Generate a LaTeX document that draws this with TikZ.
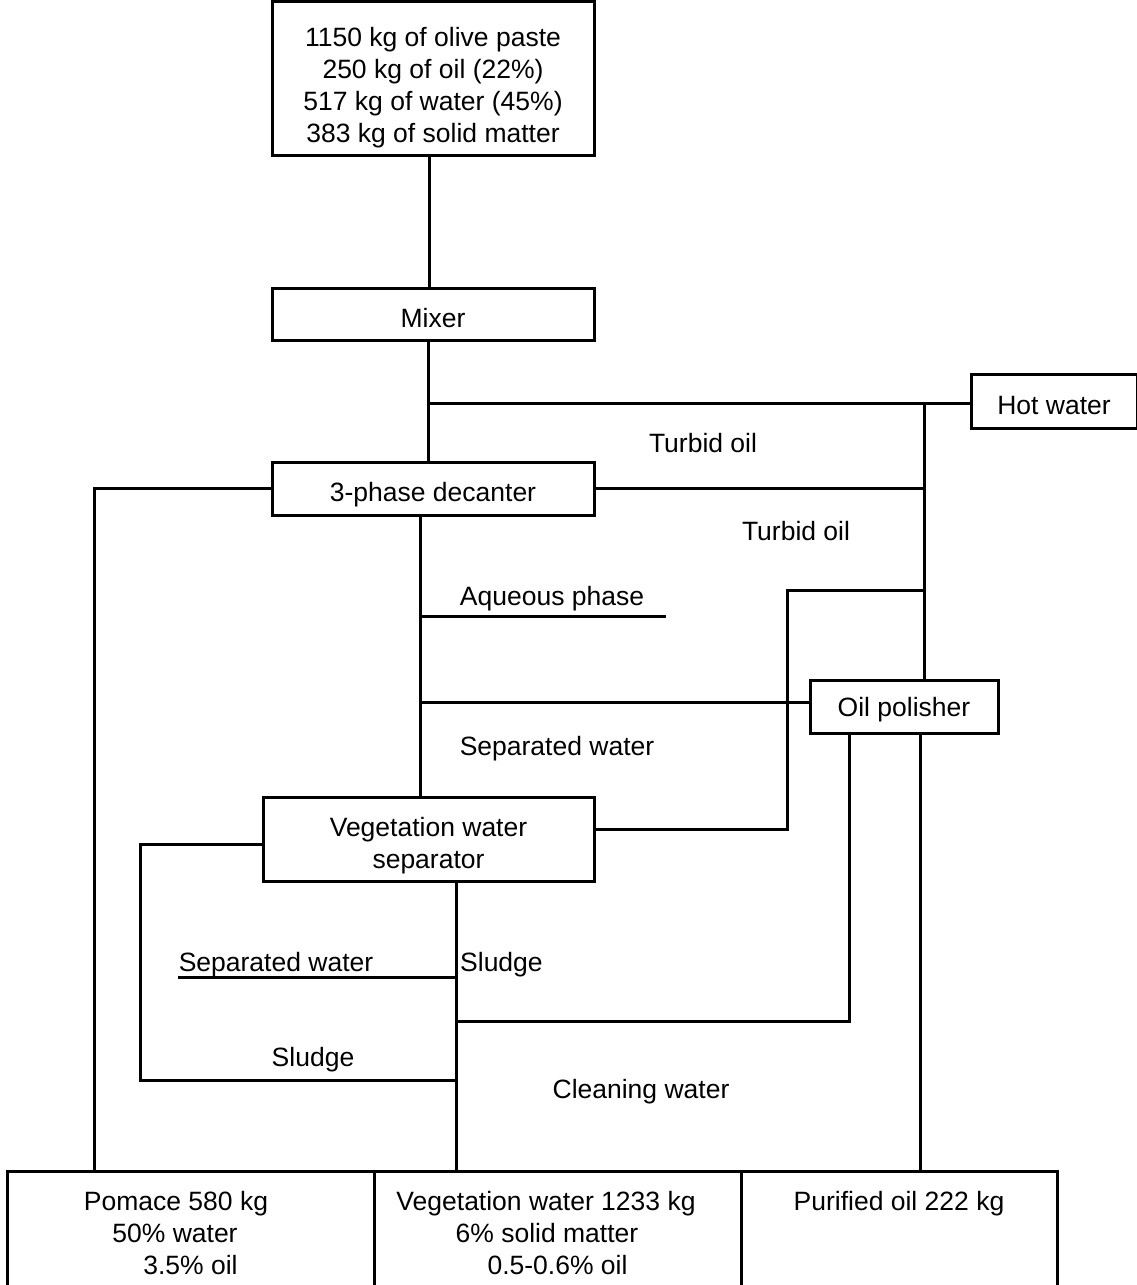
\documentclass[tikz,border=0pt]{standalone}
\usepackage{fontspec}
\setmainfont{Liberation Sans}
\begin{document}
\begin{tikzpicture}[x=1pt,y=-1pt,
  every node/.style={font=\fontsize{26.5}{32}\selectfont},
  box/.style={draw, line width=3pt, align=center, inner sep=0pt},
  lowtext/.style={text height=26pt, text depth=0pt},
  lbl/.style={inner sep=0pt, text height=19pt, text depth=0pt},
  flow/.style={line width=3pt}]
\useasboundingbox (0,0) rectangle (1137,1285);

% process units
\node[box, minimum width=322pt, minimum height=154pt] (paste) at (433,78)
  {\rule{0pt}{39pt}1150 kg of olive paste\\250 kg of oil (22\%)\\517 kg of water (45\%)\\383 kg of solid matter};
\node[box, lowtext, minimum width=322pt, minimum height=52pt] (mixer) at (433,314) {Mixer};
\node[box, lowtext, minimum width=166pt, minimum height=54pt] (hot) at (1054,401) {Hot water};
\node[box, lowtext, minimum width=322pt, minimum height=53pt] (dec) at (433,488.5) {3-phase decanter};
\node[box, lbl, minimum width=188pt, minimum height=53pt] (pol) at (904,706.5) {Oil polisher};
\node[box, minimum width=331pt, minimum height=84pt] (sep) at (428.5,839)
  {\rule{0pt}{32pt}Vegetation water\\separator};

% products
\node[box, minimum width=367pt, minimum height=124pt] (pom) at (190.5,1233)
  {Pomace 580 kg\kern29pt\\50\% water\kern31pt\\3.5\% oil};
\node[box, minimum width=367pt, minimum height=124pt] (veg) at (557.5,1233)
  {Vegetation water 1233 kg\kern23pt\\6\% solid matter\kern21pt\\0.5-0.6\% oil};
\node[box, minimum width=316pt, minimum height=124pt] (oil) at (899,1233)
  {Purified oil 222 kg\\\phantom{6\% solid matter}\\\phantom{0.5-0.6\% oil}};

% junction points
\coordinate (hwend) at (430,403);
\coordinate (hwj) at (924,403);
\coordinate (aqend) at (666,616);
\coordinate (tob) at (787,590);
\coordinate (slc) at (140,1080);
\coordinate (swend) at (178,977);
\coordinate (cwlvl) at (0,1021);

% main line
\draw[flow] ([xshift=-4pt]paste.south) -- ([xshift=-4pt]mixer.north);
\draw[flow] ([xshift=-5pt]mixer.south) -- ([xshift=-5pt]dec.north);

% hot water and turbid oil
\draw[flow] ([yshift=-2pt]hot.west) -- (hwend);
\draw[flow] (hwj) -- (hwj |- pol.north);
\draw[flow] (dec.east) -- (dec.east -| hwj);

% pomace
\draw[flow] (dec.west) -| ([xshift=89pt]pom.north west);

% aqueous phase
\coordinate (spine) at ([xshift=-13pt]dec.south);
\draw[flow] (spine) -- (spine |- sep.north);
\draw[flow] (aqend) -- (aqend -| spine);
\draw[flow] ([yshift=4pt]pol.west) -- ([yshift=4pt]pol.west -| spine);

% separator oil back to polisher
\draw[flow] ([yshift=10pt]sep.east) -| (tob) -- (tob -| hwj);

% separator outlets
\coordinate (vline) at ([xshift=27.5pt]sep.south);
\draw[flow] (vline) -- (vline |- veg.north);
\draw[flow] ([yshift=-5pt]sep.west) -| (slc) -- (slc -| vline);
\draw[flow] (swend) -- (swend -| vline);

% polisher outlets
\draw[flow] ([xshift=-55pt]pol.south) |- (cwlvl -| vline);
\draw[flow] ([xshift=16pt]pol.south) -- ([xshift=16pt]pol.south |- oil.north);

% stream labels
\node[lbl] (t1) at (703,443) {Turbid oil};
\node[lbl] (t2) at (796,531) {Turbid oil};
\node[lbl] (aq) at (552,596) {Aqueous phase};
\node[lbl] (sw1) at (557,746) {Separated water};
\node[lbl] (sw2) at (276,962) {Separated water};
\node[lbl, anchor=west] (sl1) at (460,962) {Sludge};
\node[lbl] (sl2) at (313,1057) {Sludge};
\node[lbl] (cw) at (641,1089) {Cleaning water};
\end{tikzpicture}
\end{document}
